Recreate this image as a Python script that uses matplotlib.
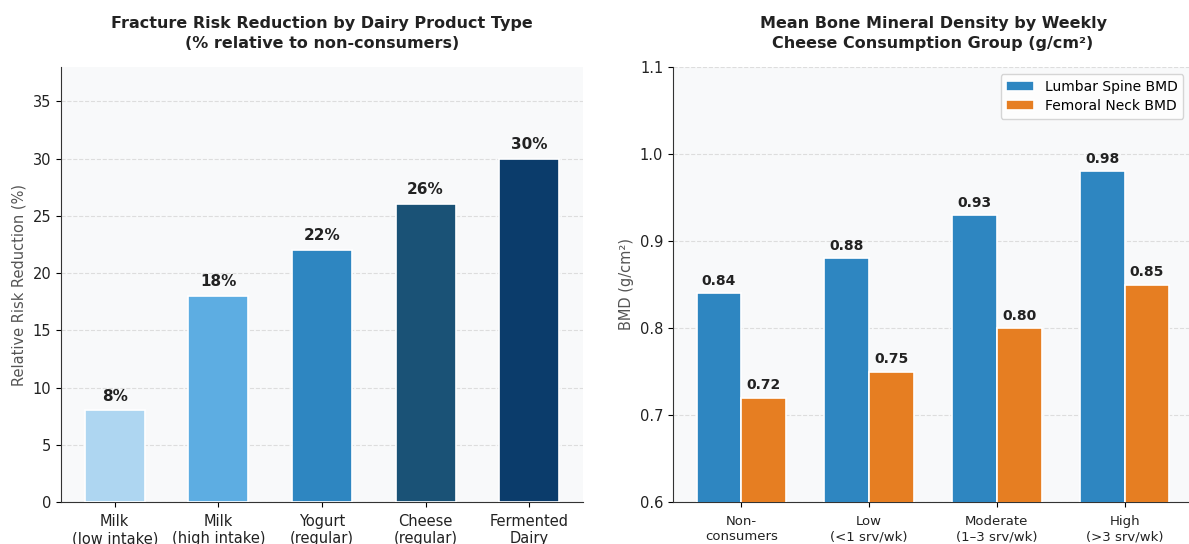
import matplotlib
matplotlib.use("Agg")
import matplotlib.pyplot as plt
import numpy as np

# Left chart data
products = ["Milk\n(low intake)", "Milk\n(high intake)", "Yogurt\n(regular)",
            "Cheese\n(regular)", "Fermented\nDairy"]
risk_reduction = [8, 18, 22, 26, 30]
product_colors = ["#AED6F1", "#5DADE2", "#2E86C1", "#1A5276", "#0B3C6B"]

# Right chart data
groups = ["Non-\nconsumers", "Low\n(<1 srv/wk)", "Moderate\n(1\u20133 srv/wk)", "High\n(>3 srv/wk)"]
lumbar_bmd = [0.84, 0.88, 0.93, 0.98]
femoral_bmd = [0.72, 0.75, 0.80, 0.85]
series_names = ["Lumbar Spine BMD", "Femoral Neck BMD"]
series_colors = ["#2E86C1", "#E67E22"]

plt.rcParams['font.family'] = ['DejaVu Sans']

fig = plt.figure(figsize=(11.89, 5.44), dpi=100)
fig.patch.set_facecolor("white")

bg = "#F8F9FA"
txt = "#222222"

# ---- Left axes
ax1 = fig.add_axes([61/1189, 42/544, (583-61)/1189, (502-67)/544])
ax1.set_facecolor(bg)
x1 = np.arange(len(products))
ax1.bar(x1, risk_reduction, width=0.58, color=product_colors,
        edgecolor="white", linewidth=1.2, zorder=3)
for xi, v in zip(x1, risk_reduction):
    ax1.text(xi, v + 0.6, f"{v}%", ha="center", va="bottom",
             fontsize=11, fontweight="bold", color=txt, zorder=4)
ax1.set_ylim(0, 38)
ax1.set_yticks([0, 5, 10, 15, 20, 25, 30, 35])
ax1.set_xticks(x1)
ax1.set_xticklabels(products, fontsize=10.5, color=txt)
ax1.tick_params(axis="x", pad=5)
ax1.tick_params(axis="y", labelsize=10.5, labelcolor=txt)
ax1.set_ylabel("Relative Risk Reduction (%)", fontsize=10.5, color="#555555")
ax1.set_title("Fracture Risk Reduction by Dairy Product Type\n(% relative to non-consumers)",
              fontsize=11.5, fontweight="bold", color=txt, pad=14, linespacing=1.35)
ax1.grid(axis="y", linestyle="--", color="#DDDDDD", linewidth=0.8, zorder=0)
ax1.set_axisbelow(True)
for s in ["top", "right"]:
    ax1.spines[s].set_visible(False)
for s in ["left", "bottom"]:
    ax1.spines[s].set_color("#333333")

# ---- Right axes
ax2 = fig.add_axes([673/1189, 42/544, (1193-673)/1189, (502-67)/544])
ax2.set_facecolor(bg)
x2 = np.arange(len(groups))
w = 0.35
ax2.bar(x2 - w/2, lumbar_bmd, width=w, color=series_colors[0],
        edgecolor="white", linewidth=1.2, label=series_names[0], zorder=3)
ax2.bar(x2 + w/2, femoral_bmd, width=w, color=series_colors[1],
        edgecolor="white", linewidth=1.2, label=series_names[1], zorder=3)
for xi, v in zip(x2 - w/2, lumbar_bmd):
    ax2.text(xi, v + 0.006, f"{v:.2f}", ha="center", va="bottom",
             fontsize=10, fontweight="bold", color=txt, zorder=4)
for xi, v in zip(x2 + w/2, femoral_bmd):
    ax2.text(xi, v + 0.006, f"{v:.2f}", ha="center", va="bottom",
             fontsize=10, fontweight="bold", color=txt, zorder=4)
ax2.set_ylim(0.6, 1.1)
yt = [0.6, 0.7, 0.8, 0.9, 1.0, 1.1]
ax2.set_yticks(yt)
ax2.set_yticklabels([f"{t:.1f}" for t in yt])
ax2.set_xticks(x2)
ax2.set_xticklabels(groups, fontsize=9.5, color=txt)
ax2.tick_params(axis="x", pad=6)
ax2.tick_params(axis="y", labelsize=10.5, labelcolor=txt)
ax2.set_ylabel("BMD (g/cm\u00b2)", fontsize=10.5, color="#555555")
ax2.set_title("Mean Bone Mineral Density by Weekly\nCheese Consumption Group (g/cm\u00b2)",
              fontsize=11.5, fontweight="bold", color=txt, pad=14, linespacing=1.35)
ax2.grid(axis="y", linestyle="--", color="#DDDDDD", linewidth=0.8, zorder=0)
ax2.set_axisbelow(True)
for s in ["top", "right"]:
    ax2.spines[s].set_visible(False)
for s in ["left", "bottom"]:
    ax2.spines[s].set_color("#333333")
ax2.legend(loc="upper right", fontsize=10, frameon=True, facecolor="white",
           edgecolor="#CCCCCC", bbox_to_anchor=(0.995, 1.0), labelspacing=0.4)

fig.savefig("out.png", dpi=100)
